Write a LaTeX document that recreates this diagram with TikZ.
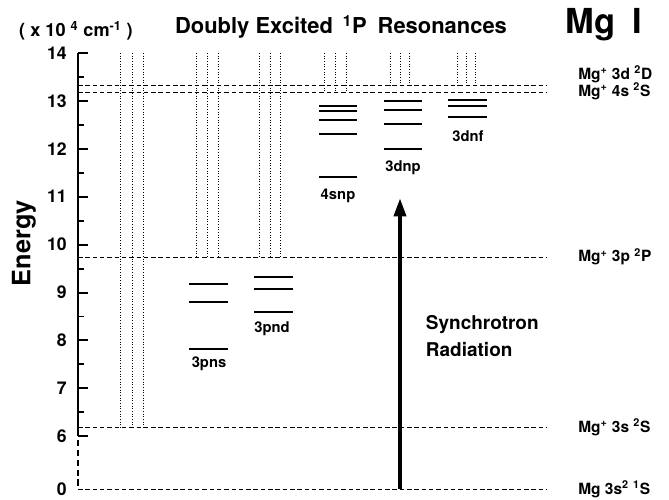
\documentclass[tikz,border=0pt]{standalone}
\usepackage{fontspec}
\setmainfont{TeX Gyre Heros}
\usetikzlibrary{arrows.meta}
\tikzset{
	level/.style = {line width=1.4pt},
	ionlimit/.style = {line width=0.8pt, dash pattern=on 3.2pt off 2pt},
	series/.style = {line width=0.7pt, dash pattern=on 0.7pt off 1.2pt},
	lbl/.style = {font=\fontsize{10.5}{12}\selectfont\bfseries},
	statelbl/.style = {anchor=west, inner sep=0pt, font=\fontsize{11}{13}\selectfont\bfseries},
	ticklbl/.style = {anchor=east, inner sep=0pt, font=\fontsize{12.5}{14}\selectfont\bfseries},
}

\begin{document}
\begin{tikzpicture}[x=0.025cm, y=1.1975cm]
	\useasboundingbox (0,4.689) rectangle (669,15.106);
	\pgfmathsetmacro{\gnd}{4.898}
	% ====== Axis ========
	\coordinate (A14) at (78,14);
	\coordinate (A6) at (78,6);
	\coordinate (Ab) at (78,5.92);
	\coordinate (A0) at (78,\gnd);
	\draw[line width=2pt] (A14) -- (A6);
	\draw[line width=1.4pt, dash pattern=on 4.5pt off 2.5pt] (Ab) -- (A0);
	\foreach \e in {6,...,14} {
		\draw[line width=1.4pt] (78,\e) -- +(10,0);
		\node[ticklbl] (t\e) at (67,\e) {\e};
	}
	\foreach \e in {6.5,7.5,...,13.5} {\draw[line width=1.4pt] (78,\e) -- +(6,0);}
	\node[ticklbl] (t0) at (67,\gnd) {0};
	\node[rotate=90, font=\fontsize{18}{20}\selectfont\bfseries] (energy) at (24,10.03) {Energy};
	\node[font=\fontsize{12.9}{14}\selectfont\bfseries] (unit) at (76,14.46) {( x 10 \textsuperscript{4} cm\textsuperscript{-1} )};
	% ====== Ionisation limits ========
	\foreach \e/\n in {13.32/D3, 13.17/S4, 9.74/P3, 6.18/S3} {
		\coordinate (L\n) at (78,\e);
		\coordinate (R\n) at (547,\e);
		\draw[ionlimit] (L\n) -- (R\n);
	}
	\coordinate (G) at (400,\gnd);
	\coordinate (Gr) at (547,\gnd);
	\draw[ionlimit] (A0) -- (Gr);
	\node[statelbl] (mD3) at (578,13.56) {Mg\textsuperscript{+} 3d \textsuperscript{2}D};
	\node[statelbl] (mS4) at (578,13.20) {Mg\textsuperscript{+} 4s \textsuperscript{2}S};
	\node[statelbl] (mP3) at (578,9.75) {Mg\textsuperscript{+} 3p \textsuperscript{2}P};
	\node[statelbl] (mS3) at (578,6.19) {Mg\textsuperscript{+} 3s \textsuperscript{2}S};
	\node[statelbl] (mG) at (578,\gnd) {Mg 3s\textsuperscript{2} \textsuperscript{1}S};
	% ====== Series limits ========
	\foreach \x/\w/\e in {132/11.3/6.18, 207.3/11.3/9.74, 270/10.8/9.74, 335.7/10.8/13.17, 400/9.3/13.32, 466.7/8.8/13.32} {
		\foreach \d in {-1,0,1} {\draw[series] (\x+\d*\w,14) -- (\x+\d*\w,\e);}
	}
	% ====== Resonances ========
	\foreach \e in {9.18,8.81,7.83} {\draw[level] (189,\e) -- (228,\e);}
	\node[lbl] (pns) at (209,7.51) {3pns};
	\foreach \e in {9.33,9.08,8.60} {\draw[level] (254,\e) -- (293,\e);}
	\node[lbl] (pnd) at (272,8.24) {3pnd};
	\foreach \e in {12.89,12.79,12.60,12.31,11.41} {\draw[level] (319,\e) -- (357,\e);}
	\node[lbl] (snp) at (338,11.01) {4snp};
	\foreach \e in {12.99,12.82,12.52,11.99} {\draw[level] (384,\e) -- (422,\e);}
	\node[lbl] (dnp) at (403,11.60) {3dnp};
	\foreach \e in {13.02,12.89,12.67} {\draw[level] (448,\e) -- (487,\e);}
	\node[lbl] (dnf) at (468,12.27) {3dnf};
	% ====== Excitation ========
	\coordinate (T) at (400,10.97);
	\draw[line width=2.8pt, -{Triangle[length=13pt, width=8.5pt]}] (G) -- (T);
	\node[anchor=west, align=left, font=\fontsize{13.5}{19}\selectfont\bfseries] (sr) at (421,8.09) {Synchrotron\\Radiation};
	% ====== Title ========
	\node[font=\fontsize{15.6}{17}\selectfont\bfseries] (title) at (341,14.54) {Doubly Excited\hspace{0.45em}\textsuperscript{1}P\hspace{0.5em}Resonances};
	\node[font=\fontsize{24.5}{26}\selectfont\bfseries] (mg) at (604,14.58) {Mg\hspace{0.5em}I};
\end{tikzpicture}
\end{document}
